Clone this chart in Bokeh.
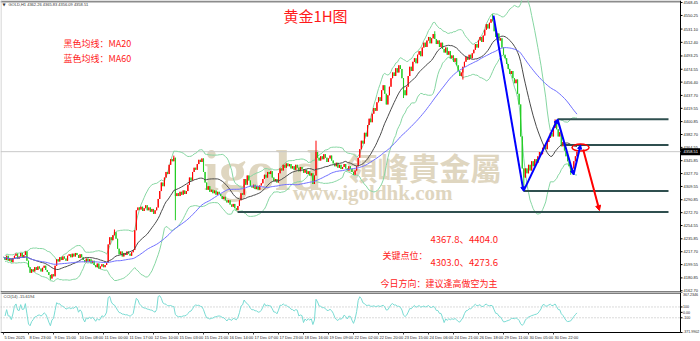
import numpy as np
import pandas as pd
from bokeh.plotting import figure
from bokeh.layouts import column
from bokeh.models import Range1d, Label, Arrow, NormalHead, ColumnDataSource
from bokeh.core.properties import value
from bokeh.embed import file_html
from bokeh.resources import INLINE

# ---------------- data ----------------
closes = [
    4210, 4206, 4212, 4205, 4208, 4203, 4209, 4212,
    4215, 4208, 4211, 4216, 4209, 4213, 4218,
    4205, 4196, 4188, 4193, 4190,
    4196, 4192, 4197, 4194, 4190, 4195, 4198, 4192, 4189,
    4185, 4180, 4186, 4183,
    4198, 4207, 4204, 4210, 4206, 4211, 4208, 4205, 4212,
    4214, 4210, 4215, 4211, 4216, 4213, 4209, 4214, 4210,
    4206, 4203, 4208, 4204, 4207, 4202, 4205,
    4199, 4196, 4201, 4194, 4197, 4200, 4196, 4199, 4202,
    4228, 4238, 4234, 4241, 4245, 4236,
    4222, 4214, 4218, 4211, 4216, 4213, 4218, 4215, 4212, 4217, 4220,
    4248, 4276, 4280,
    4277, 4281, 4275, 4279, 4283, 4276, 4280, 4274, 4278, 4271, 4276, 4280,
    4292, 4303, 4315, 4310, 4322, 4330, 4327,
    4340, 4348, 4345, 4350,
    4296,
    4300, 4296, 4302, 4298, 4304, 4299, 4303,
    4312, 4322, 4318, 4330, 4336, 4333,
    4341, 4347, 4344, 4349,
    4330, 4315, 4305, 4310, 4302,
    4305, 4300, 4304, 4298, 4302, 4299, 4296,
    4292, 4295, 4290, 4287, 4290, 4284, 4281, 4285, 4279, 4276,
    4282, 4290, 4300, 4298,
    4320, 4312, 4325, 4318, 4310,
    4308, 4312, 4306, 4310, 4305, 4311, 4314,
    4320, 4326, 4322, 4330, 4327, 4331,
    4322, 4317, 4320, 4315,
    4328, 4335, 4332, 4340, 4336, 4342, 4338, 4341, 4335,
    4338, 4333, 4340, 4336, 4331, 4337,
    4334, 4329, 4333, 4327, 4331, 4325, 4328, 4313,
    4325, 4358, 4350, 4346, 4352,
    4348, 4355, 4350, 4344, 4349, 4353, 4346,
    4342, 4338, 4343, 4336, 4340, 4334, 4337, 4341, 4335, 4332, 4338, 4334,
    4330, 4326, 4332, 4338,
    4350, 4362, 4374, 4370,
    4385, 4380, 4396, 4405,
    4400, 4412, 4420, 4416,
    4428, 4435, 4430, 4445,
    4452, 4440, 4425, 4438, 4450, 4462,
    4470, 4465, 4476, 4470, 4480, 4475,
    4462, 4445, 4438, 4450,
    4465, 4478, 4472, 4485, 4490, 4483, 4495,
    4500, 4493, 4505, 4512, 4506, 4515, 4520, 4511, 4518,
    4524, 4517, 4510, 4515, 4506, 4512, 4503,
    4498, 4505, 4495, 4500, 4490, 4494, 4485, 4490, 4480,
    4472, 4465, 4470, 4478,
    4485, 4492, 4488, 4495, 4490, 4497, 4502,
    4510, 4505, 4515, 4520, 4513, 4522,
    4530, 4538, 4532, 4540, 4545, 4542,
    4528, 4520, 4525, 4515, 4518,
    4505, 4495, 4490, 4482,
    4475, 4468, 4472, 4462,
    4455, 4460, 4440, 4425,
    4380, 4335,
    4322, 4335, 4328, 4340, 4332, 4345,
    4338, 4348, 4343, 4352, 4358,
    4355, 4364, 4368, 4362,
    4372, 4378, 4385, 4380,
    4392, 4398, 4390,
    4380, 4386, 4366, 4372,
    4360, 4352, 4345, 4338,
    4330, 4335,
    4345, 4352, 4358.51,
]
high_spike_bars = [71, 109, 200, 276, 313, 353]
high_spike_vals = [4249, 4353, 4374, 4528, 4552, 4404]
low_spike_bars = [30, 110, 256, 294, 333, 363]
low_spike_vals = [4178, 4262, 4434, 4460, 4303, 4326]

price_ticks = [4568.45, 4550.25, 4531.10, 4512.40, 4493.25, 4474.55, 4456.40,
               4437.70, 4419.55, 4400.85, 4382.70, 4364.55, 4345.85, 4327.70,
               4309.55, 4290.85, 4272.70, 4254.55, 4235.85, 4217.70, 4199.55,
               4180.85, 4162.70]
time_labels = ["5 Dec 2025", "8 Dec 23:00", "9 Dec 15:00", "10 Dec 08:00",
               "11 Dec 00:00", "11 Dec 17:00", "12 Dec 10:00", "15 Dec 03:00",
               "15 Dec 21:00", "16 Dec 14:00", "17 Dec 07:00", "17 Dec 23:00",
               "18 Dec 16:00", "19 Dec 09:00", "22 Dec 02:00", "22 Dec 20:00",
               "23 Dec 15:00", "24 Dec 06:00", "24 Dec 21:00", "26 Dec 18:00",
               "29 Dec 11:00", "30 Dec 05:00", "30 Dec 22:00"]
cci_ticks = [367.2346, 100, 0, -100, -371.9902]
cci_tick_text = ["367.2346", "100", "0.00", "-100", "-371.9902"]

key_levels = [4404.0, 4367.8, 4303.0, 4273.6]
key_level_start = [354.6, 358.4, 332.8, 149.8]
key_level_end = [425.6, 425.6, 425.6, 425.6]

zigzag_bar = [313.6, 332.8, 354.6, 364.8, 369.3]
zigzag_price = [4550.0, 4303.0, 4404.0, 4326.0, 4368.0]
red_arrow_bar = [371.0, 381.4]
red_arrow_price = [4361.5, 4275.6]
ellipse_bar = 369.3
ellipse_price = 4364.3

header_text = "GOLD,H1  4362.26 4365.83 4356.09 4358.51"
cci_text = "CCI(14) -15.6194"

# ---------------- derived series ----------------
n = len(closes)
idx = np.arange(n)
c = np.array(closes, dtype=float)
o = np.concatenate([[c[0]], c[:-1]])
h = np.maximum(o, c)
l = np.minimum(o, c)
for b, v in zip(high_spike_bars, high_spike_vals):
    h[b] = max(h[b], v)
for b, v in zip(low_spike_bars, low_spike_vals):
    l[b] = min(l[b], v)

s = pd.Series(c)
ma20 = s.rolling(20, min_periods=1).mean()
ma60 = s.rolling(60, min_periods=1).mean()
sd20 = s.rolling(20, min_periods=2).std(ddof=0)
bb_up = ma20 + 2 * sd20
bb_dn = ma20 - 2 * sd20

tp = pd.Series((h + l + c) / 3.0)
tp_sma = tp.rolling(14, min_periods=2).mean()
tp_md = tp.rolling(14, min_periods=2).apply(lambda x: np.mean(np.abs(x - x.mean())), raw=True)
cci = ((tp - tp_sma) / (0.015 * tp_md)).replace([np.inf, -np.inf], np.nan)

up = c >= o
colors = np.where(up, "#ff0000", "#22cc22")
src = ColumnDataSource(dict(x=idx, h=h, l=l, top=np.maximum(o, c),
                            bot=np.minimum(o, c), col=colors))

# ---------------- layout geometry ----------------
W = 700
PXB = 1.5625                 # pixels per bar
X0 = -1.92                   # bar value at left edge
X1 = X0 + W / PXB            # bar value at right edge of canvas
AXB = X0 + 680 / PXB         # bar value of the price axis line
PX = lambda px: px / PXB     # pixel distance -> bar units

AXFONT = value("Liberation Sans")
AXSIZE = "4px"
AXCOL = "#222222"

# ---------------- main price panel ----------------
H1 = 292
YTOP, YBOT = 4571.3, 4160.3
UPP = (YTOP - YBOT) / H1     # price units per pixel
xr = Range1d(X0, X1)
p1 = figure(width=W, height=H1, x_range=xr, y_range=Range1d(YBOT, YTOP),
            output_backend="svg", toolbar_location=None, x_axis_location=None,
            y_axis_location=None, min_border_left=0, min_border_right=0,
            min_border_top=0, min_border_bottom=0)
p1.grid.visible = False
p1.outline_line_color = None
p1.background_fill_color = "white"

# watermark
for txt, x, y, size, font, align, base in [
        ("igold", 203, 122, "56px", "Liberation Serif", "left", "alphabetic"),
        ("領峰貴金屬", 501, 126, "31px", "Noto Sans CJK TC", "right", "middle"),
        ("www.igoldhk.com", 452, 100, "21px", "Liberation Serif", "right", "middle")]:
    p1.add_layout(Label(x=x, y=y, x_units="screen", y_units="screen", text=txt,
                        text_font=font, text_font_size=size, text_font_style="bold",
                        text_color="#dfd6c0", text_align=align, text_baseline=base,
                        level="underlay"))

# frame borders and price axis
p1.segment(x0=[X0], y0=[YTOP - UPP], x1=[AXB], y1=[YTOP - UPP], line_color="#8c8c8c", line_width=2)
p1.segment(x0=[X0 + PX(0.5)], y0=[YBOT], x1=[X0 + PX(0.5)], y1=[YTOP], line_color="#c8c8c8", line_width=1)
p1.segment(x0=[X0], y0=[YBOT + 0.5 * UPP], x1=[AXB], y1=[YBOT + 0.5 * UPP], line_color="black", line_width=1)
p1.segment(x0=[AXB], y0=[YBOT], x1=[AXB], y1=[YTOP], line_color="black", line_width=1)
p1.segment(x0=AXB, y0=price_ticks, x1=AXB + PX(2), y1=price_ticks, line_color="black", line_width=1)
p1.text(x=AXB + PX(3), y=price_ticks, text=[f"{v:.2f}" for v in price_ticks],
        text_font=AXFONT, text_font_size=AXSIZE, text_color=AXCOL,
        text_baseline="middle", text_align="left")

# bid line
p1.segment(x0=[X0], y0=[c[-1]], x1=[AXB], y1=[c[-1]], line_color="#c8c8c8", line_width=1)

# Bollinger bands
p1.line(idx, bb_up, line_color="#86d6a2", line_width=1)
p1.line(idx, bb_dn, line_color="#86d6a2", line_width=1)

# candles
p1.segment(x0="x", y0="l", x1="x", y1="h", color="col", line_width=1, source=src)
p1.vbar(x="x", width=0.7, top="top", bottom="bot", fill_color="col",
        line_color=None, source=src)

# moving averages
p1.line(idx, ma20, line_color="#4a4a4a", line_width=1)
p1.line(idx, ma60, line_color="#6f6fff", line_width=1)

# key levels
p1.segment(x0=key_level_start, y0=key_levels, x1=key_level_end, y1=key_levels,
           line_color="#2f4f4f", line_width=2)

# blue zigzag with arrowheads
zz = ColumnDataSource(dict(xs=zigzag_bar[:-1], ys=zigzag_price[:-1],
                           xe=zigzag_bar[1:], ye=zigzag_price[1:]))
p1.add_layout(Arrow(end=NormalHead(size=4, fill_color="blue", line_color="blue"),
                    x_start="xs", y_start="ys", x_end="xe", y_end="ye", source=zz,
                    line_color="blue", line_width=2))
# red forecast arrow and ellipse
p1.add_layout(Arrow(end=NormalHead(size=5, fill_color="red", line_color="red"),
                    x_start=red_arrow_bar[0], y_start=red_arrow_price[0],
                    x_end=red_arrow_bar[1], y_end=red_arrow_price[1],
                    line_color="red", line_width=2))
p1.ellipse(x=[ellipse_bar], y=[ellipse_price], width=10.9, height=9.9,
           fill_alpha=0, line_color="red", line_width=1.5)

# current price box
p1.quad(left=[AXB + PX(0.5)], right=[X1], top=[c[-1] + 3.5 * UPP], bottom=[c[-1] - 3.5 * UPP],
        fill_color="black", line_color=None)
p1.text(x=[AXB + PX(3)], y=[c[-1]], text=[f"{c[-1]:.2f}"], text_font=AXFONT,
        text_font_size=AXSIZE, text_color="white", text_baseline="middle", text_align="left")

# texts (screen coordinates: y measured from bottom of frame)
RED = "#ff1a1a"
CJK = "Noto Sans CJK SC"
texts = [
    ("黄金1H图", 315, 277.5, "15px", "center"),
    ("黑色均线：MA20", 63, 249, "9px", "left"),
    ("蓝色均线：MA60", 63, 234.5, "9px", "left"),
    ("4367.8、4404.0", 430, 53.5, "9.5px", "left"),
    ("关键点位：", 382, 37.5, "9px", "left"),
    ("4303.0、4273.6", 430, 30.5, "9.5px", "left"),
    ("今日方向：建议逢高做空为主", 380, 9, "9px", "left"),
]
for t, x, y, size, align in texts:
    p1.add_layout(Label(x=x, y=y, x_units="screen", y_units="screen", text=t,
                        text_font=CJK, text_font_size=size, text_color=RED,
                        text_align=align, text_baseline="middle"))

p1.add_layout(Label(x=2, y=288, x_units="screen", y_units="screen", text="▼",
                    text_font="DejaVu Sans", text_font_size=AXSIZE,
                    text_color="#333333", text_baseline="middle"))
p1.add_layout(Label(x=8, y=288, x_units="screen", y_units="screen", text=header_text,
                    text_font="Liberation Sans", text_font_size=AXSIZE,
                    text_color="#333333", text_baseline="middle"))

# ---------------- CCI panel ----------------
H2 = 49
CTOP, CBOT = cci_ticks[0], cci_ticks[-1]
CPP = (CTOP - CBOT) / 40.0          # CCI units per pixel (40 px tall panel)
CLOW = CBOT - (H2 - 40) * CPP       # bottom of canvas (time label strip)
p2 = figure(width=W, height=H2, x_range=xr, y_range=Range1d(CLOW, CTOP),
            output_backend="svg", toolbar_location=None, x_axis_location=None,
            y_axis_location=None, min_border_left=0, min_border_right=0,
            min_border_top=0, min_border_bottom=0)
p2.grid.visible = False
p2.outline_line_color = None

# panel frame
p2.segment(x0=[X0], y0=[CTOP - 0.5 * CPP], x1=[AXB], y1=[CTOP - 0.5 * CPP], line_color="black", line_width=1)
p2.segment(x0=[X0], y0=[CBOT], x1=[AXB], y1=[CBOT], line_color="black", line_width=1)
p2.segment(x0=[AXB], y0=[CBOT], x1=[AXB], y1=[CTOP], line_color="black", line_width=1)
p2.segment(x0=[X0 + PX(0.5)], y0=[CBOT], x1=[X0 + PX(0.5)], y1=[CTOP], line_color="#c8c8c8", line_width=1)

# +/-100 levels
p2.segment(x0=[X0, X0], y0=[100, -100], x1=[AXB, AXB], y1=[100, -100],
           line_color="#b4b4b4", line_dash="1 2", line_width=1)
p2.line(idx, cci, line_color="#79dbd3", line_width=1)
p2.add_layout(Label(x=3, y=H2 - 4, x_units="screen", y_units="screen", text=cci_text,
                    text_font="Liberation Sans", text_font_size=AXSIZE,
                    text_color="#333333", text_baseline="middle"))

# CCI axis ticks and labels
CSIZE = "3.6px"
p2.segment(x0=AXB, y0=cci_ticks, x1=AXB + PX(2), y1=cci_ticks, line_color="black", line_width=1)
p2.text(x=[AXB + PX(2.5)], y=cci_ticks[:1], text=cci_tick_text[:1], text_font=AXFONT,
        text_font_size=CSIZE, text_color=AXCOL, text_baseline="top", text_align="left")
p2.text(x=AXB + PX(2.5), y=cci_ticks[1:-1], text=cci_tick_text[1:-1], text_font=AXFONT,
        text_font_size=CSIZE, text_color=AXCOL, text_baseline="middle", text_align="left")
p2.text(x=[AXB + PX(2.5)], y=cci_ticks[-1:], text=cci_tick_text[-1:], text_font=AXFONT,
        text_font_size=CSIZE, text_color=AXCOL, text_baseline="bottom", text_align="left")

# time axis
time_bars = [16 * k for k in range(len(time_labels))]
p2.segment(x0=time_bars, y0=CBOT, x1=time_bars, y1=CBOT - 2 * CPP, line_color="#444444", line_width=1)
p2.text(x=[b + PX(1) for b in time_bars], y=CBOT - 4.5 * CPP, text=time_labels,
        text_font=AXFONT, text_font_size=AXSIZE, text_color=AXCOL,
        text_baseline="middle", text_align="left")

layout = column(p1, p2, spacing=0)
open("out.html", "w").write(file_html(layout, INLINE))
